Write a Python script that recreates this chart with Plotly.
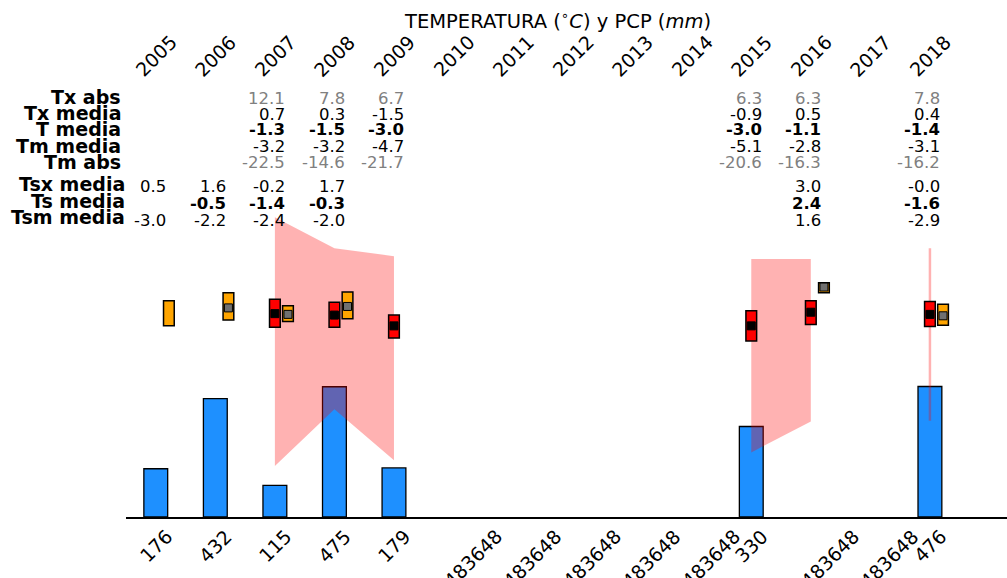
import plotly.graph_objects as go

# ---------------- data ----------------
years = list(range(2005, 2019))
pcp = [176, 432, 115, 475, 179, None, None, None, None, None, 330, None, None, 476]
tx_abs = [None, None, 12.1, 7.8, 6.7, None, None, None, None, None, 6.3, 6.3, None, 7.8]
tx_med = [None, None, 0.7, 0.3, -1.5, None, None, None, None, None, -0.9, 0.5, None, 0.4]
t_med = [None, None, -1.3, -1.5, -3.0, None, None, None, None, None, -3.0, -1.1, None, -1.4]
tm_med = [None, None, -3.2, -3.2, -4.7, None, None, None, None, None, -5.1, -2.8, None, -3.1]
tm_abs = [None, None, -22.5, -14.6, -21.7, None, None, None, None, None, -20.6, -16.3, None, -16.2]
tsx_med = [0.5, 1.6, -0.2, 1.7, None, None, None, None, None, None, None, 3.0, None, -0.0]
ts_med = [None, -0.5, -1.4, -0.3, None, None, None, None, None, None, None, 2.4, None, -1.6]
tsm_med = [-3.0, -2.2, -2.4, -2.0, None, None, None, None, None, None, None, 1.6, None, -2.9]
row_labels = ["Tx abs", "Tx media", "T media", "Tm media", "Tm abs",
              "Tsx media", "Ts media", "Tsm media"]
missing_label = "-2147483648"
title_text = "TEMPERATURA (<sup>∘</sup><i>C</i>) y PCP (<i>mm</i>)"

# ---------------- layout geometry ----------------
W, H = 1007, 578
L, B = 126, 61
PW, PH = W - L, H - B          # plot area in px
YEAR_PX = 59.55                # px per year
X0 = 2004.5
X1 = X0 + PW / YEAR_PX
PCP_PX = 0.2742                # px per mm
T0_PY = 304.3                  # pixel row of 0 degC
T_PX = 7.19                    # px per degC
t_top = T0_PY / T_PX
t_bot = (T0_PY - PH) / T_PX


def py(p):
    return (PH - p) / PH


def pxp(p):
    return (p - L) / PW


FONT = "DejaVu Sans"


def diff(a, b):
    return [None if (u is None or v is None) else u - v for u, v in zip(a, b)]


fig = go.Figure()

# precipitation bars
fig.add_trace(go.Bar(x=years, y=pcp, width=0.4, yaxis="y",
                     marker=dict(color="#1e90ff", line=dict(color="black", width=1.3)),
                     hoverinfo="skip"))

# absolute range fill (contiguous segments)
segs, cur = [], []
for yr, a, b in zip(years, tx_abs, tm_abs):
    if a is not None and b is not None:
        cur.append((yr, a, b))
    else:
        if cur:
            segs.append(cur)
        cur = []
if cur:
    segs.append(cur)
for seg in segs:
    xs = [s[0] for s in seg] + [s[0] for s in reversed(seg)]
    ys = [s[1] for s in seg] + [s[2] for s in reversed(seg)]
    single = len(seg) == 1
    fig.add_trace(go.Scatter(x=xs + [xs[0]], y=ys + [ys[0]], yaxis="y2", mode="lines",
                             fill="toself", fillcolor="rgba(255,0,0,0.3)",
                             line=dict(color="rgba(255,0,0,0.3)", width=2.5 if single else 0),
                             hoverinfo="skip"))

# air temperature boxes
fig.add_trace(go.Bar(x=years, y=diff(tx_med, tm_med), base=tm_med, width=0.18, yaxis="y3",
                     marker=dict(color="red", line=dict(color="black", width=1.5)),
                     hoverinfo="skip"))
# soil temperature boxes
fig.add_trace(go.Bar(x=[y + 0.22 for y in years], y=diff(tsx_med, tsm_med), base=tsm_med,
                     width=0.18, yaxis="y3",
                     marker=dict(color="orange", line=dict(color="black", width=1.5)),
                     hoverinfo="skip"))
fig.add_trace(go.Scatter(x=years, y=t_med, yaxis="y3", mode="markers",
                         marker=dict(symbol="square", size=8, color="black",
                                     line=dict(color="black", width=1)),
                         hoverinfo="skip"))
fig.add_trace(go.Scatter(x=[y + 0.22 for y in years], y=ts_med, yaxis="y3", mode="markers",
                         marker=dict(symbol="square", size=8, color="#707070",
                                     line=dict(color="black", width=1)),
                         hoverinfo="skip"))

ann = []
# top year labels
for yr in years:
    ann.append(dict(x=yr, y=py(82), xref="x", yref="paper", text=str(yr), showarrow=False,
                    textangle=-45, xanchor="center", yanchor="bottom", borderpad=0,
                    font=dict(family=FONT, size=19, color="black")))
# bottom pcp labels
for yr, v in zip(years, pcp):
    ann.append(dict(x=yr, y=py(524), xref="x", yref="paper",
                    text=str(v) if v is not None else missing_label, showarrow=False,
                    textangle=-45, xanchor="center", yanchor="top", borderpad=0,
                    font=dict(family=FONT, size=19, color="black")))

# row labels
label_py = [96.7, 113, 129, 145.5, 162, 183.5, 200.5, 217]
label_px = [122, 122, 122, 122, 122, 126, 126, 126]
for lab, lp, lx in zip(row_labels, label_py, label_px):
    ann.append(dict(x=pxp(lx), y=py(lp), xref="paper", yref="paper",
                    text="<b>%s</b>" % lab, showarrow=False, xanchor="right",
                    yanchor="middle", borderpad=0,
                    font=dict(family=FONT, size=19, color="black")))

# values
rows = [tx_abs, tx_med, t_med, tm_med, tm_abs, tsx_med, ts_med, tsm_med]
row_py = [98.5, 114.5, 130, 146, 162, 186.5, 203.5, 220.5]
row_bold = [False, False, True, False, False, False, True, False]
row_col = ["#808080", "black", "black", "black", "#808080", "black", "black", "black"]
VOFF = 11.5 / YEAR_PX
for vals, rp, bold, col in zip(rows, row_py, row_bold, row_col):
    for yr, v in zip(years, vals):
        if v is None:
            continue
        s = "%.1f" % v
        if bold:
            s = "<b>%s</b>" % s
        ann.append(dict(x=yr + VOFF, y=py(rp), xref="x", yref="paper", text=s,
                        showarrow=False, xanchor="right", yanchor="middle", borderpad=0,
                        font=dict(family=FONT, size=16.5, color=col)))

# title
ann.append(dict(x=pxp(557), y=py(19.5), xref="paper", yref="paper", text=title_text,
                showarrow=False, xanchor="center", yanchor="middle", borderpad=0,
                font=dict(family=FONT, size=19.5, color="black")))

fig.update_layout(
    width=W, height=H,
    margin=dict(l=L, r=0, t=0, b=B, pad=0),
    paper_bgcolor="white", plot_bgcolor="white",
    showlegend=False, barmode="overlay",
    annotations=ann,
    xaxis=dict(range=[X0, X1], showgrid=False, zeroline=False, showticklabels=False,
               ticks="", showline=True, linecolor="black", linewidth=1.5),
    yaxis=dict(range=[0, PH / PCP_PX], visible=False, showgrid=False, zeroline=False),
    yaxis2=dict(range=[t_bot, t_top], overlaying="y", visible=False, showgrid=False,
                zeroline=False),
    yaxis3=dict(range=[t_bot, t_top], overlaying="y", visible=False, showgrid=False,
                zeroline=False),
)

fig.write_html("out.html")
